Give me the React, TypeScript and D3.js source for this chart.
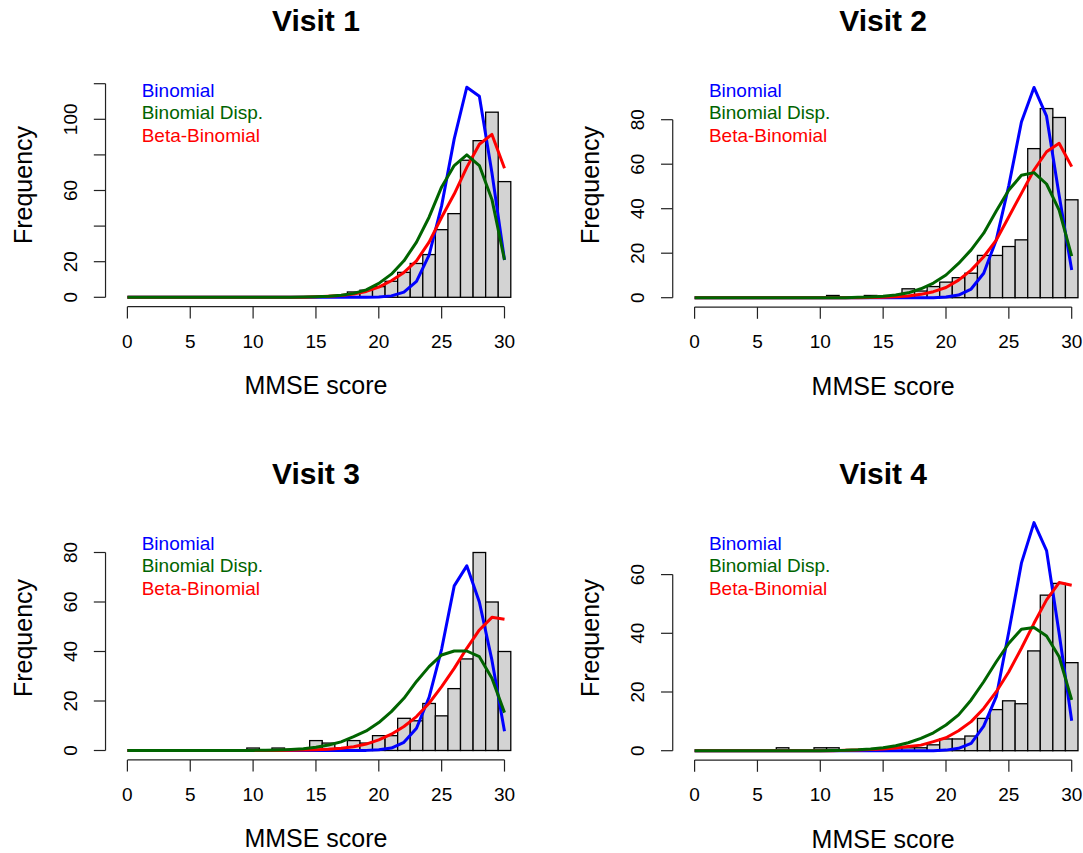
import React from "react";
import * as d3 from "d3";

// ---------- data ----------
const scores = [0,1,2,3,4,5,6,7,8,9,10,11,12,13,14,15,16,17,18,19,20,21,22,23,24,25,26,27,28,29,30];
const xTickValues = [0, 5, 10, 15, 20, 25, 30];
const seriesNames = ["Binomial", "Binomial Disp.", "Beta-Binomial"];
const visitTitles = ["Visit 1", "Visit 2", "Visit 3", "Visit 4"];

const counts1 = [0,0,0,0,0,0,0,0,0,0, 0,0,0,0,0,0,0,0,3,4, 6,9,14,19,24,38,47,77,88,104, 65];
const binom1 = [0,0,0,0,0,0,0,0,0,0, 0,0,0,0,0,0,0,0,0,0, 0.2,0.8,2.9,9.0,23.7,51.5,89,118,113,70, 21];
const disp1 = [0,0,0,0,0,0,0,0,0,0, 0,0,0,0,0.1,0.3,0.6,1.2,2.2,4.2, 7.8,13,20.5,31,45,62,74,80,74,55, 21];
const beta1 = [0,0,0,0,0,0,0,0,0,0, 0,0,0,0,0,0.3,0.6,1.0,1.8,3.3, 5.7,9.3,14,20.5,31,45,58,73,86,91.5, 72.5];

const counts2 = [0,0,0,0,0,0,0,0,0,0, 0,1,0,0,1,0,0,4,3,5, 7,9,11,19,19,23,26,67,85,81, 44];
const binom2 = [0,0,0,0,0,0,0,0,0,0, 0,0,0,0,0,0,0,0,0,0, 0.3,1.2,3.9,11,26,50.5,79,94.5,81.6,46, 12.4];
const disp2 = [0,0,0,0,0,0,0,0,0,0, 0,0,0,0.15,0.3,0.6,1.2,2.2,4.0,6.6, 10.2,15.4,21.5,29,39,48.4,55,56.2,51.1,39.4, 18.7];
const beta2 = [0,0,0,0,0,0,0,0,0,0, 0,0,0,0,0.1,0.2,0.4,0.8,1.5,2.7, 4.6,7.9,12.4,18.4,25.9,36.4,46.9,57.4,65.6,69.4, 58.9];

const counts3 = [0,0,0,0,0,0,0,0,0,0, 1,0,1,0,0,4,3,1,4,3, 6,6,13,12,19,14,25,37,80,60, 40];
const binom3 = [0,0,0,0,0,0,0,0,0,0, 0,0,0,0,0,0,0,0,0,0.05, 0.3,1.0,3.3,9,21.5,41,66.5,74.6,60,36.5, 7.8];
const disp3 = [0,0,0,0,0,0,0,0,0,0, 0.05,0.1,0.2,0.4,0.7,1.3,2.2,3.5,5.6,7.9, 11.3,15.7,21.1,27.9,33.9,38.6,40.2,40.2,37.9,29.2, 15.3];
const beta3 = [0,0,0,0,0,0,0,0,0,0, 0,0,0,0.1,0.2,0.3,0.5,0.9,1.5,2.6, 4.3,6.6,9.7,13.7,19.1,25.8,33.2,41.3,48.7,53.8, 53];

const counts4 = [0,0,0,0,0,0,0,1,0,0, 1,1,0,0,0,0,1,1,1,2, 4,4,5,11,14,17,16,34,53,57, 30];
const binom4 = [0,0,0,0,0,0,0,0,0,0, 0,0,0,0,0,0,0,0,0,0, 0.2,0.8,2.5,8.4,18.4,40.6,63.9,77.7,68.2,40, 10.2];
const disp4 = [0,0,0,0,0,0,0,0,0,0, 0,0.1,0.15,0.3,0.6,1.0,1.7,2.7,4.2,6.1, 8.75,12.2,17.3,23.5,30.3,36.6,41.4,42,39.1,32, 17.3];
const beta4 = [0,0,0,0,0,0,0,0,0,0, 0,0,0.15,0.25,0.4,0.6,0.9,1.4,1.9,3.1, 4.4,6.8,9.9,14.4,20.1,26.9,34.9,43.4,51.4,57.3, 56.4];

const yTicks1 = [0, 20, 40, 60, 80, 100, 120];
const yLabels1 = [0, 20, 60, 100];
const yTicks2 = [0, 20, 40, 60, 80];
const yTicks3 = [0, 20, 40, 60, 80];
const yTicks4 = [0, 20, 40, 60];

// ---------- layout ----------
const W = 1083, H = 853;
const FONT = "'Liberation Sans', Arial, Helvetica, sans-serif";
const COLORS = ["#0000FF", "#006400", "#FF0000"];
const PX_X = 12.57;

const panels = [
  { title: visitTitles[0], counts: counts1, fits: [binom1, disp1, beta1], yTicks: yTicks1, yLabels: yLabels1,
    x0: 127.4, y0: 297.3, unitY: 1.78, dy: 0 },
  { title: visitTitles[1], counts: counts2, fits: [binom2, disp2, beta2], yTicks: yTicks2, yLabels: yTicks2,
    x0: 694.6, y0: 297.7, unitY: 2.225, dy: 0 },
  { title: visitTitles[2], counts: counts3, fits: [binom3, disp3, beta3], yTicks: yTicks3, yLabels: yTicks3,
    x0: 127.4, y0: 750.5, unitY: 2.475, dy: 453 },
  { title: visitTitles[3], counts: counts4, fits: [binom4, disp4, beta4], yTicks: yTicks4, yLabels: yTicks4,
    x0: 694.6, y0: 750.7, unitY: 2.935, dy: 453 },
];

function Panel({ p }: { p: any }) {
  const x = d3.scaleLinear().domain([0, 30]).range([p.x0, p.x0 + 30 * PX_X]);
  const y = d3.scaleLinear().domain([0, 100]).range([p.y0, p.y0 - 100 * p.unitY]);
  const plotLeft = x(-1.74);
  const plotRight = x(31.74);
  const cx = (plotLeft + plotRight) / 2;
  const xAxisY = p.y0 + 9.4;
  const tick = 11.7;
  const line = d3.line<number>().x((_, i) => x(scores[i])).y((v) => y(v));
  const drawOrder = [0, 2, 1];
  return (
    <g>
      {/* title */}
      <text x={cx} y={31 + p.dy} textAnchor="middle" fontFamily={FONT} fontWeight="bold" fontSize={30}>{p.title}</text>
      {/* bars */}
      {scores.map((s, i) => (
        <rect key={s} x={x(s - 0.5)} y={y(p.counts[i])} width={x(s + 0.5) - x(s - 0.5)}
          height={y(0) - y(p.counts[i])} fill="#D3D3D3" stroke="#000" strokeWidth={1.3} />
      ))}
      {/* fitted curves */}
      {drawOrder.map((k) => (
        <path key={k} d={line(p.fits[k]) || ""} fill="none" stroke={COLORS[k]} strokeWidth={3}
          strokeLinejoin="round" strokeLinecap="butt" />
      ))}
      {/* x axis */}
      <line x1={x(0)} x2={x(30)} y1={xAxisY} y2={xAxisY} stroke="#222" strokeWidth={1.2} />
      {xTickValues.map((t) => (
        <g key={t}>
          <line x1={x(t)} x2={x(t)} y1={xAxisY} y2={xAxisY + tick} stroke="#222" strokeWidth={1.2} />
          <text x={x(t)} y={xAxisY + 41} textAnchor="middle" fontFamily={FONT} fontSize={19}>{t}</text>
        </g>
      ))}
      <text x={cx} y={xAxisY + 87.5} textAnchor="middle" fontFamily={FONT} fontSize={25}>MMSE score</text>
      {/* y axis */}
      <line x1={plotLeft} x2={plotLeft} y1={y(0)} y2={y(p.yTicks[p.yTicks.length - 1])} stroke="#222" strokeWidth={1.2} />
      {p.yTicks.map((t: number) => (
        <line key={t} x1={plotLeft - tick} x2={plotLeft} y1={y(t)} y2={y(t)} stroke="#222" strokeWidth={1.2} />
      ))}
      {p.yLabels.map((t: number) => (
        <text key={t} transform={`translate(${plotLeft - 35.5},${y(t)}) rotate(-90)`} textAnchor="middle"
          dominantBaseline="central" fontFamily={FONT} fontSize={19}>{t}</text>
      ))}
      <text transform={`translate(${plotLeft - 83},${185 + p.dy}) rotate(-90)`} textAnchor="middle"
        dominantBaseline="central" fontFamily={FONT} fontSize={25}>Frequency</text>
      {/* legend */}
      {seriesNames.map((n, k) => (
        <text key={n} x={x(0) + 14.3} y={96.5 + k * 22.6 + p.dy} fontFamily={FONT} fontSize={19} fill={COLORS[k]}>{n}</text>
      ))}
    </g>
  );
}

export default function App() {
  return (
    <svg width={W} height={H} style={{ position: "absolute", left: 0, top: 0, background: "#fff" }}>
      <rect x={0} y={0} width={W} height={H} fill="#fff" />
      {panels.map((p, i) => <Panel key={i} p={p} />)}
    </svg>
  );
}
